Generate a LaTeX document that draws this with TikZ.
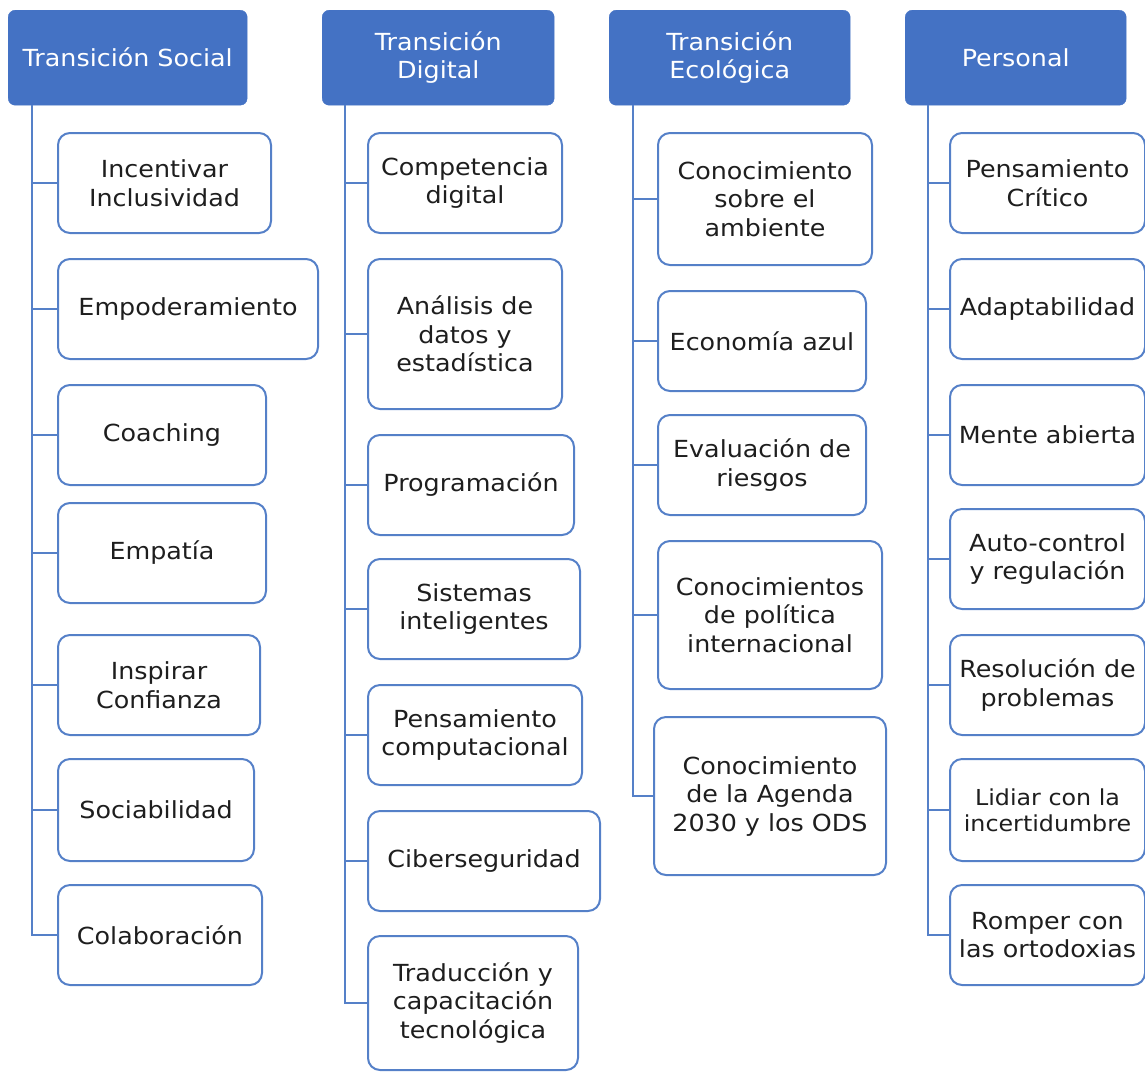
\documentclass[tikz,border=0pt]{standalone}
\usepackage{fontspec}
\setmainfont{DejaVu Sans}[FakeStretch=1.08]
\usepackage{tikz}
\definecolor{hdrblue}{HTML}{4472C4}
\definecolor{lineblue}{HTML}{5580C8}
\definecolor{txtgray}{HTML}{1E1E1E}

\begin{document}
\begin{tikzpicture}[x=1pt, y=-1pt,
    header/.style={draw=hdrblue, fill=hdrblue, rounded corners=7pt, text=white,
        align=center, anchor=north west, inner sep=0pt, minimum height=95pt,
        font=\fontsize{23.5}{28.5}\selectfont},
    item/.style={draw=lineblue, line width=2pt, fill=white, rounded corners=12pt,
        text=txtgray, align=center, anchor=west, inner sep=0pt, minimum height=100pt,
        font=\fontsize{23.5}{28.5}\selectfont},
    trunk/.style={draw=lineblue, line width=2pt}]
    \useasboundingbox (0,0) rectangle (1145,1072);
    % headers
    \node[header, minimum width=239pt] (h1) at (8,10) {Transición Social};
    \node[header, minimum width=232pt] (h2) at (322,10) {Transición\\Digital};
    \node[header, minimum width=241pt] (h3) at (609,10) {Transición\\Ecológica};
    \node[header, minimum width=221pt] (h4) at (905,10) {Personal};
    \coordinate (t1) at ([xshift=24pt]h1.south west);
    \coordinate (t2) at ([xshift=23pt]h2.south west);
    \coordinate (t3) at ([xshift=24pt]h3.south west);
    \coordinate (t4) at ([xshift=23pt]h4.south west);
    % social
    \node[item, minimum width=213pt] (s1) at (57,183) {Incentivar\\Inclusividad};
    \node[item, minimum width=260pt] (s2) at (57,309) {Empoderamiento};
    \node[item, minimum width=208pt] (s3) at (57,435) {Coaching};
    \node[item, minimum width=208pt] (s4) at (57,553) {Empatía};
    \node[item, minimum width=202pt] (s5) at (57,685) {Inspirar\\Confianza};
    \node[item, minimum width=196pt, minimum height=102pt] (s6) at (57,810) {Sociabilidad};
    \node[item, minimum width=204pt] (s7) at (57,935) {Colaboración};
    % digital
    \node[item, minimum width=194pt] (d1) at (367,183) {Competencia\\digital};
    \node[item, minimum width=194pt, minimum height=150pt] (d2) at (367,334) {Análisis de\\datos y\\estadística};
    \node[item, minimum width=206pt] (d3) at (367,485) {Programación};
    \node[item, minimum width=212pt] (d4) at (367,609) {Sistemas\\inteligentes};
    \node[item, minimum width=214pt] (d5) at (367,735) {Pensamiento\\computacional};
    \node[item, minimum width=232pt] (d6) at (367,861) {Ciberseguridad};
    \node[item, minimum width=210pt, minimum height=134pt] (d7) at (367,1003) {Traducción y\\capacitación\\tecnológica};
    % ecologica
    \node[item, minimum width=214pt, minimum height=132pt] (e1) at (657,199) {Conocimiento\\sobre el\\ambiente};
    \node[item, minimum width=208pt] (e2) at (657,341) {Economía azul};
    \node[item, minimum width=208pt] (e3) at (657,465) {Evaluación de\\riesgos};
    \node[item, minimum width=224pt, minimum height=148pt] (e4) at (657,615) {Conocimientos\\de política\\internacional};
    \node[item, minimum width=232pt, minimum height=158pt] (e5) at (653,796) {Conocimiento\\de la Agenda\\2030 y los ODS};
    % personal
    \node[item, minimum width=195pt] (p1) at (949,183) {Pensamiento\\Crítico};
    \node[item, minimum width=195pt] (p2) at (949,309) {Adaptabilidad};
    \node[item, minimum width=195pt] (p3) at (949,435) {Mente abierta};
    \node[item, minimum width=195pt] (p4) at (949,559) {Auto-control\\y regulación};
    \node[item, minimum width=195pt] (p5) at (949,685) {Resolución de\\problemas};
    \node[item, minimum width=195pt, minimum height=102pt,
          font=\fontsize{22}{26}\selectfont] (p6) at (949,810) {Lidiar con la\\incertidumbre};
    \node[item, minimum width=195pt] (p7) at (949,935) {Romper con\\las ortodoxias};
    % connectors
    \draw[trunk] (t1) |- (s7.west);
    \draw[trunk] (s1.west) -- (s1.west -| t1);
    \draw[trunk] (s2.west) -- (s2.west -| t1);
    \draw[trunk] (s3.west) -- (s3.west -| t1);
    \draw[trunk] (s4.west) -- (s4.west -| t1);
    \draw[trunk] (s5.west) -- (s5.west -| t1);
    \draw[trunk] (s6.west) -- (s6.west -| t1);
    \draw[trunk] (t2) |- (d7.west);
    \draw[trunk] (d1.west) -- (d1.west -| t2);
    \draw[trunk] (d2.west) -- (d2.west -| t2);
    \draw[trunk] (d3.west) -- (d3.west -| t2);
    \draw[trunk] (d4.west) -- (d4.west -| t2);
    \draw[trunk] (d5.west) -- (d5.west -| t2);
    \draw[trunk] (d6.west) -- (d6.west -| t2);
    \draw[trunk] (t3) |- (e5.west);
    \draw[trunk] (e1.west) -- (e1.west -| t3);
    \draw[trunk] (e2.west) -- (e2.west -| t3);
    \draw[trunk] (e3.west) -- (e3.west -| t3);
    \draw[trunk] (e4.west) -- (e4.west -| t3);
    \draw[trunk] (t4) |- (p7.west);
    \draw[trunk] (p1.west) -- (p1.west -| t4);
    \draw[trunk] (p2.west) -- (p2.west -| t4);
    \draw[trunk] (p3.west) -- (p3.west -| t4);
    \draw[trunk] (p4.west) -- (p4.west -| t4);
    \draw[trunk] (p5.west) -- (p5.west -| t4);
    \draw[trunk] (p6.west) -- (p6.west -| t4);
\end{tikzpicture}
\end{document}
